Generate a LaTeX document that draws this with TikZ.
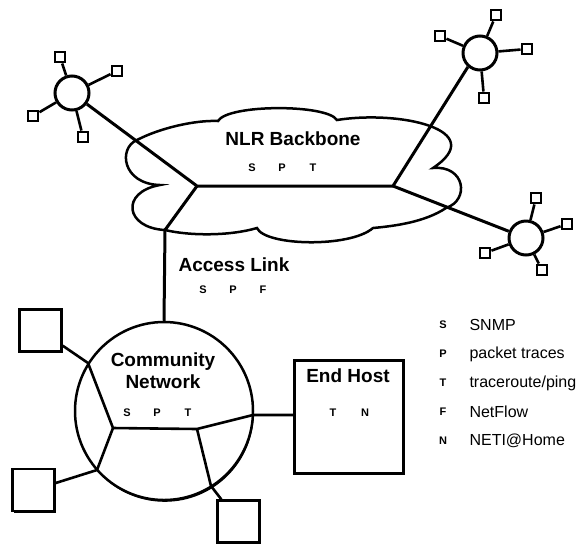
\documentclass[tikz,border=0pt]{standalone}
\usepackage{fontspec}
\setmainfont{Liberation Sans}
\usetikzlibrary{shadows}
\begin{document}
\begin{tikzpicture}[x=1pt,y=-1pt,
  wire/.style={line width=3pt},
  thinwire/.style={line width=2.6pt},
  hub/.style={circle,draw,line width=3pt,fill=white,minimum size=34pt,inner sep=0pt},
  leaf/.style={rectangle,draw,line width=2.4pt,fill=white,minimum size=10.5pt,inner sep=0pt},
  bigleaf/.style={rectangle,draw,line width=2.4pt,fill=white,minimum size=42pt,inner sep=0pt,
    drop shadow={shadow xshift=1.2pt,shadow yshift=-1.6pt,opacity=1,fill=black}},
  title/.style={font=\fontsize{19}{22}\selectfont\bfseries,align=center},
  tag/.style={font=\fontsize{11}{13}\selectfont\bfseries},
  legtext/.style={font=\fontsize{16}{19}\selectfont,anchor=west},
]
\useasboundingbox (0,0) rectangle (580,547);

% ---------- backbone cloud ----------
\draw[line width=2.5pt,fill=white,line join=miter]
  (137,140) .. controls (160,128) and (195,120) .. (218,121)
  .. controls (228,104) and (327,104) .. (337,120)
  .. controls (400,110) and (490,130) .. (433,168)
  .. controls (465,165) and (470,200) .. (446,208)
  .. controls (425,222) and (395,226) .. (373,228)
  .. controls (350,248) and (265,246) .. (257,228)
  .. controls (230,236) and (190,236) .. (165,230)
  .. controls (125,228) and (120,192) .. (160,185)
  .. controls (122,184) and (118,148) .. cycle;

% ---------- junctions ----------
\coordinate (jl) at (197,186);
\coordinate (jr) at (393,186);
\coordinate (al) at (165,230);

% ---------- regional hubs ----------
\node[hub] (hubTL) at (72,93) {};
\node[hub] (hubTR) at (480,53) {};
\node[hub] (hubBR) at (526,238) {};

\node[leaf] (tl1) at (60,57) {};
\node[leaf] (tl2) at (117,71) {};
\node[leaf] (tl3) at (33,116) {};
\node[leaf] (tl4) at (83,137) {};

\node[leaf] (tr1) at (496,15) {};
\node[leaf] (tr2) at (440,36) {};
\node[leaf] (tr3) at (527,49) {};
\node[leaf] (tr4) at (484,98) {};

\node[leaf] (br1) at (536,198) {};
\node[leaf] (br2) at (567,224) {};
\node[leaf] (br3) at (485,253) {};
\node[leaf] (br4) at (542,270) {};

\foreach \h/\l in {hubTL/tl1,hubTL/tl2,hubTL/tl3,hubTL/tl4,
                   hubTR/tr1,hubTR/tr2,hubTR/tr3,hubTR/tr4,
                   hubBR/br1,hubBR/br2,hubBR/br3,hubBR/br4}
  \draw[thinwire] (\h) -- (\l);

% backbone links
\draw[wire,line join=round] (hubTL) -- (jl) -- (jr) -- (hubTR.229);
\draw[wire] (jr) -- (hubBR);

% ---------- community network ----------
\node[circle,draw,line width=2.5pt,fill=white,minimum size=178pt,inner sep=0pt,
  drop shadow={shadow xshift=0.8pt,shadow yshift=-1.8pt,opacity=1,fill=black}] (comm) at (164,411) {};
\draw[wire] (jl) -- (al) -- (comm.north);

\node[bigleaf] (sqUL) at (40.5,330.5) {};
\node[bigleaf] (sqLL) at (33.5,490) {};
\node[bigleaf] (sqB) at (238.5,521.5) {};
\node[rectangle,draw,line width=2.5pt,fill=white,minimum width=109pt,minimum height=113pt,inner sep=0pt,
  drop shadow={shadow xshift=1.2pt,shadow yshift=-1.8pt,opacity=1,fill=black}] (endhost) at (349,417) {};

\coordinate (ja) at (113,428);
\coordinate (jb) at (197,429);
\coordinate (cUL) at (88,363);
\coordinate (cLL) at (97,470);
\coordinate (cB) at (211,486);
\coordinate (cR) at (253,415);

\draw[thinwire,line join=round] (sqUL) -- (cUL) -- (ja) -- (jb) -- (cR) -- (cR -| endhost.west);
\draw[thinwire,line join=round] (ja) -- (cLL) -- (sqLL);
\draw[thinwire,line join=round] (jb) -- (cB) -- (sqB);

% ---------- labels ----------
\node[title] (nlr) at (293,139) {NLR Backbone};
\node[tag] (nlrS) at (252,168) {S};
\node[tag] (nlrP) at (282,168) {P};
\node[tag] (nlrT) at (313,168) {T};

\node[title] (acc) at (234,265) {Access Link};
\node[tag] (accS) at (203,290) {S};
\node[tag] (accP) at (233,290) {P};
\node[tag] (accF) at (263,290) {F};

\node[title] (commtxt) at (163,371) {Community\\Network};
\node[tag] (comS) at (127,413) {S};
\node[tag] (comP) at (157,413) {P};
\node[tag] (comT) at (188,413) {T};

\node[title] (ehtxt) at (348,376) {End Host};
\node[tag] (ehT) at (333,413) {T};
\node[tag] (ehN) at (365,413) {N};

% ---------- legend ----------
\foreach \k/\y/\t [count=\i] in {S/325/{SNMP}, P/354/{packet traces}, T/383/{traceroute/ping},
                                 F/412/{NetFlow}, N/441/{NETI@Home}} {
  \node[tag] (key\i) at (443,\y) {\k};
  \node[legtext] (desc\i) at (466,\y) {\t};
}
\end{tikzpicture}
\end{document}
